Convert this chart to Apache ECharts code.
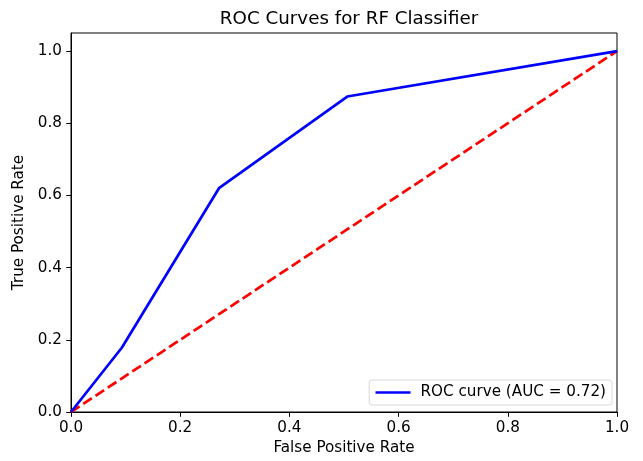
<!DOCTYPE html>
<html>
<head>
<meta charset="utf-8">
<script src="https://cdn.jsdelivr.net/npm/echarts@6/dist/echarts.min.js"></script>
<style>
  html, body { margin: 0; padding: 0; background: #fff; }
  #chart { width: 643px; height: 461px; }
</style>
</head>
<body>
<div id="chart"></div>
<script>
// ROC curve points of the random forest classifier
const fpr = [0.0, 0.093, 0.271, 0.506, 1.0];
const tpr = [0.0, 0.178, 0.620, 0.874, 1.0];
// Chance-level reference diagonal
const chanceX = [0.0, 1.0];
const chanceY = [0.0, 1.0];
const aucValue = 0.72;
const tickValues = [0.0, 0.2, 0.4, 0.6, 0.8, 1.0];

const FONT = 'DejaVu Sans';
const LABEL_SIZE = 15.2;

const chart = echarts.init(document.getElementById('chart'), null, { renderer: 'canvas' });

const axisCommon = {
  type: 'value',
  nameLocation: 'middle',
  nameTextStyle: { fontFamily: FONT, fontSize: LABEL_SIZE, color: '#000' },
  axisLine: { show: true, lineStyle: { color: '#000', width: 1 } },
  axisTick: { show: true, length: 4.8, lineStyle: { color: '#000', width: 1 }, customValues: tickValues },
  axisLabel: {
    fontFamily: FONT, fontSize: LABEL_SIZE, color: '#000', margin: 9,
    customValues: tickValues,
    formatter: v => v.toFixed(1)
  },
  splitLine: { show: false }
};

const rocName = 'ROC curve (AUC = ' + aucValue.toFixed(2) + ')';

chart.setOption({
  animation: false,
  backgroundColor: '#fff',
  title: {
    text: 'ROC Curves for RF Classifier',
    left: 344, top: 5, textAlign: 'center',
    textStyle: { fontFamily: FONT, fontSize: 18.3, fontWeight: 'normal', color: '#000' }
  },
  grid: {
    left: 71, right: 26, top: 33, bottom: 48,
    show: true, borderColor: '#000', borderWidth: 1, backgroundColor: 'transparent'
  },
  xAxis: Object.assign({}, axisCommon, {
    min: 0, max: 1, interval: 0.2,
    name: 'False Positive Rate', nameGap: 29
  }),
  yAxis: Object.assign({}, axisCommon, {
    min: 0, max: 1.05,
    name: 'True Positive Rate', nameGap: 41
  }),
  legend: {
    data: [rocName],
    right: 31, bottom: 56,
    orient: 'vertical',
    itemWidth: 35, itemHeight: 15, itemGap: 4,
    padding: [5, 6, 5, 5],
    borderColor: '#d9d9d9', borderWidth: 1, borderRadius: 3,
    backgroundColor: 'rgba(255,255,255,0.8)',
    itemStyle: { opacity: 0 },
    lineStyle: { width: 2.7 },
    textStyle: { fontFamily: FONT, fontSize: LABEL_SIZE, color: '#000', padding: [0, 0, 0, 5] }
  },
  series: [
    {
      name: 'chance',
      type: 'line',
      data: chanceX.map((x, i) => [x, chanceY[i]]),
      symbol: 'none',
      lineStyle: { color: '#ff0000', width: 2.7, type: [10.3, 4.4] },
      z: 2
    },
    {
      name: rocName,
      type: 'line',
      data: fpr.map((x, i) => [x, tpr[i]]),
      symbol: 'none',
      color: '#0000ff',
      lineStyle: { color: '#0000ff', width: 2.7 },
      z: 3
    }
  ]
});
</script>
</body>
</html>
